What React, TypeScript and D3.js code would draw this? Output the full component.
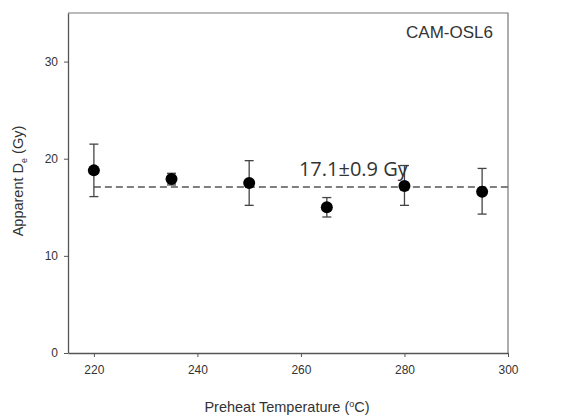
import React, { useEffect, useRef } from "react";
import * as d3 from "d3";

// preheat temperatures (°C)
const temps = [220, 235, 250, 265, 280, 295];
// apparent De (Gy)
const doses = [18.8, 17.9, 17.5, 15.0, 17.2, 16.6];
const errUpper = [21.5, 18.5, 19.8, 16.0, 19.3, 19.0];
const errLower = [16.1, 17.3, 15.2, 14.0, 15.2, 14.3];

const xTicks = [220, 240, 260, 280, 300];
const yTicks = [0, 10, 20, 30];
const meanDose = 17.1;
const meanLabel = "17.1±0.9 Gy";
const sampleName = "CAM-OSL6";

const App = () => {
  const ref = useRef<SVGSVGElement>(null);

  useEffect(() => {
    const width = 561;
    const height = 419;
    const marginLeft = 68;
    const marginRight = 53;
    const marginTop = 13;
    const marginBottom = 66;

    const x = d3
      .scaleLinear()
      .domain([215, 300])
      .range([marginLeft, width - marginRight]);

    const y = d3
      .scaleLinear()
      .domain([0, 35])
      .range([height - marginBottom, marginTop]);

    const svg = d3
      .select(ref.current)
      .attr("width", width)
      .attr("height", height)
      .attr("viewBox", [0, 0, width, height]);

    svg.selectAll("*").remove();

    svg
      .append("rect")
      .attr("width", width)
      .attr("height", height)
      .attr("fill", "white");

    // frame (top and right edges)
    svg
      .append("path")
      .attr("d", `M${x(215)},${y(35)}H${x(300)}V${y(0)}`)
      .attr("fill", "none")
      .attr("stroke", "#777")
      .attr("stroke-width", 1.2);

    // x axis
    svg
      .append("g")
      .attr("transform", `translate(0,${y(0)})`)
      .call(d3.axisBottom(x).tickValues(xTicks).tickSize(4).tickSizeOuter(0))
      .call((g) => g.select(".domain").attr("stroke", "#555").attr("stroke-width", 1.3))
      .call((g) => g.selectAll(".tick line").attr("stroke", "#555"))
      .call((g) =>
        g
          .selectAll(".tick text")
          .attr("dy", 14)
          .attr("fill", "#333")
          .attr("font-size", 12)
          .attr("font-family", "Liberation Sans, Arial, sans-serif")
      );

    // y axis
    svg
      .append("g")
      .attr("transform", `translate(${marginLeft},0)`)
      .call(d3.axisLeft(y).tickValues(yTicks).tickSize(4).tickSizeOuter(0))
      .call((g) => g.select(".domain").attr("stroke", "#555").attr("stroke-width", 1.3))
      .call((g) => g.selectAll(".tick line").attr("stroke", "#555"))
      .call((g) =>
        g
          .selectAll(".tick text")
          .attr("x", -10)
          .attr("fill", "#333")
          .attr("font-size", 12)
          .attr("font-family", "Liberation Sans, Arial, sans-serif")
      );

    // mean line
    svg
      .append("line")
      .attr("x1", x(220))
      .attr("x2", x(300))
      .attr("y1", y(meanDose))
      .attr("y2", y(meanDose))
      .attr("stroke", "#555")
      .attr("stroke-width", 1.5)
      .attr("stroke-dasharray", "7,4");

    // error bars
    const eb = svg
      .append("g")
      .attr("stroke", "#444")
      .attr("stroke-width", 1.3)
      .selectAll("g")
      .data(temps)
      .join("g");

    eb.append("line")
      .attr("x1", (d) => x(d))
      .attr("x2", (d) => x(d))
      .attr("y1", (d, i) => y(errUpper[i]))
      .attr("y2", (d, i) => y(errLower[i]));
    eb.append("line")
      .attr("x1", (d) => x(d) - 4.5)
      .attr("x2", (d) => x(d) + 4.5)
      .attr("y1", (d, i) => y(errUpper[i]))
      .attr("y2", (d, i) => y(errUpper[i]));
    eb.append("line")
      .attr("x1", (d) => x(d) - 4.5)
      .attr("x2", (d) => x(d) + 4.5)
      .attr("y1", (d, i) => y(errLower[i]))
      .attr("y2", (d, i) => y(errLower[i]));

    // points
    svg
      .append("g")
      .attr("fill", "black")
      .selectAll("circle")
      .data(temps)
      .join("circle")
      .attr("cx", (d) => x(d))
      .attr("cy", (d, i) => y(doses[i]))
      .attr("r", 6);

    // mean label
    svg
      .append("text")
      .attr("x", x(260) - 2)
      .attr("y", y(meanDose) - 11)
      .attr("fill", "#333")
      .attr("font-size", 20)
      .attr("font-family", "Open Sans, Liberation Sans, sans-serif")
      .text(meanLabel);

    // sample name
    svg
      .append("text")
      .attr("x", x(300) - 15)
      .attr("y", 38)
      .attr("text-anchor", "end")
      .attr("fill", "#333")
      .attr("font-size", 17)
      .attr("font-family", "Liberation Sans, Arial, sans-serif")
      .text(sampleName);

    // x axis title
    const xt = svg
      .append("text")
      .attr("x", (x(215) + x(300)) / 2 - 1)
      .attr("y", 412)
      .attr("text-anchor", "middle")
      .attr("fill", "#333")
      .attr("font-size", 14.5)
      .attr("font-family", "Liberation Sans, Arial, sans-serif");
    xt.append("tspan").text("Preheat Temperature (");
    xt.append("tspan").attr("dy", -5).attr("font-size", 9).text("o");
    xt.append("tspan").attr("dy", 5).text("C)");

    // y axis title
    const yt = svg
      .append("text")
      .attr("transform", `translate(23,${y(17.7)}) rotate(-90)`)
      .attr("text-anchor", "middle")
      .attr("fill", "#333")
      .attr("font-size", 14.5)
      .attr("font-family", "Liberation Sans, Arial, sans-serif");
    yt.append("tspan").text("Apparent D");
    yt.append("tspan").attr("dy", 4).attr("font-size", 9).text("e");
    yt.append("tspan").attr("dy", -4).text(" (Gy)");
  }, []);

  return (
    <div style={{ position: "absolute", left: 0, top: 0 }}>
      <svg ref={ref} style={{ display: "block" }}></svg>
    </div>
  );
};

export default App;
